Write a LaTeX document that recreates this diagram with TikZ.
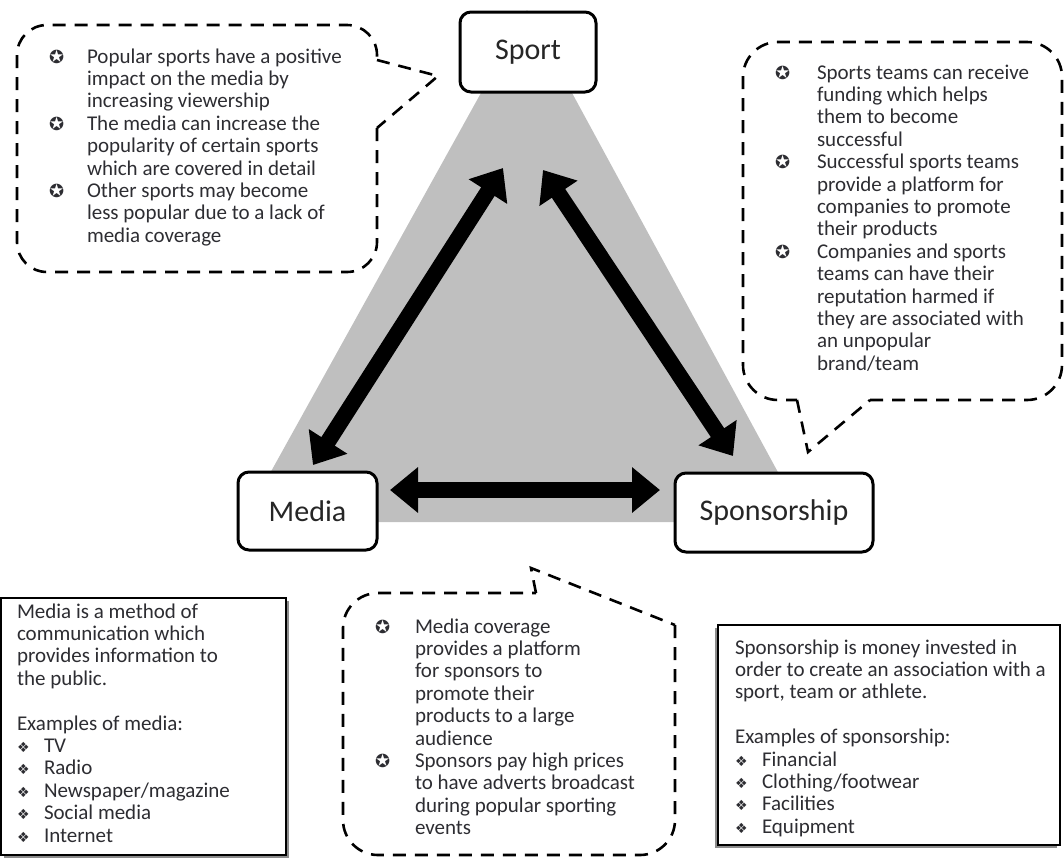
\documentclass[tikz,border=0pt]{standalone}
\usepackage{fontspec}
\setmainfont{Carlito}
\newfontfamily\symfont{DejaVu Sans}
\usetikzlibrary{arrows.meta}
\definecolor{tri}{RGB}{191,191,191}
\definecolor{txt}{RGB}{45,45,50}
\newcommand\cbul[1]{\par\hangindent=#1\hangafter=1\noindent\makebox[#1][l]{\hspace*{-1pt}\symfont\fontsize{18}{18}\selectfont\raisebox{0pt}{✪}}}
\newcommand\dbul{\makebox[27pt][l]{\symfont\fontsize{14}{14}\selectfont ❖}}
\begin{document}
\begin{tikzpicture}[x=1pt,y=-1pt,
  every node/.style={inner sep=0pt, outer sep=0pt},
  keybox/.style={draw=black, line width=3pt, rounded corners=11pt, fill=white, font=\fontsize{30}{34}\selectfont, text=black!85},
  callout/.style={draw=black, line width=2.6pt, dash pattern=on 13pt off 9pt},
  bigarrow/.style={line width=16pt, {Triangle[length=28pt,width=44pt]}-{Triangle[length=28pt,width=44pt]}},
  bodytext/.style={anchor=base west, text=txt, font=\fontsize{21}{22.4}\selectfont},
  infobox/.style={draw=black, line width=2pt, fill=white},
  shadowbox/.style={fill=black!45}
]
\useasboundingbox (0,0) rectangle (1064,857);

% grey triangle
\fill[tri] (527,10) -- (243,522) -- (805,522) -- cycle;

% key nodes
\node[keybox, minimum width=136pt, minimum height=80pt] (sport) at (528,52) {Sport};
\node[keybox, minimum width=139pt, minimum height=78pt] (media) at (307.5,511) {Media};
\node[keybox, minimum width=198pt, minimum height=79pt] (spons) at (774,512.5) {Sponsorship};

% arrow ends
\coordinate (msT) at (503,168);
\coordinate (msB) at (313,465);
\coordinate (ssT) at (543,170);
\coordinate (ssB) at (733,456);
\coordinate (hmL) at (390,490);
\coordinate (hmR) at (660,490);
\draw[bigarrow] (msB) -- (msT);
\draw[bigarrow] (ssB) -- (ssT);
\draw[bigarrow] (hmL) -- (hmR);

% top-left callout
\draw[callout, rounded corners=30pt] (377,128) -- (377,272) -- (17,272) -- (17,25) -- (377,25) -- (377,60);
\draw[callout] (377,60) -- (438,76) -- (377,128);
\node[bodytext] (tltext) at (50,63) {\parbox[t]{320pt}{%
\cbul{37pt}Popular sports have a positive\\ impact on the media by\\ increasing viewership
\cbul{37pt}The media can increase the\\ popularity of certain sports\\ which are covered in detail
\cbul{37pt}Other sports may become\\ less popular due to a lack of\\ media coverage}};

% top-right callout
\draw[callout, rounded corners=35pt] (870,400) -- (1062,400) -- (1062,42) -- (743,42) -- (743,400) -- (797,400);
\draw[callout] (797,400) -- (808,452) -- (870,400);
\node[bodytext] (trtext) at (776,79) {\parbox[t]{280pt}{%
\cbul{41pt}Sports teams can receive\\ funding which helps\\ them to become\\ successful
\cbul{41pt}Successful sports teams\\ provide a platform for\\ companies to promote\\ their products
\cbul{41pt}Companies and sports\\ teams can have their\\ reputation harmed if\\ they are associated with\\ an unpopular\\ brand/team}};

% bottom-middle callout
\draw[callout, rounded corners=35pt] (675,625) -- (675,855) -- (343,855) -- (343,593) -- (536,593);
\draw[callout] (536,593) -- (531,568) -- (675,625);
\node[bodytext] (bmtext) at (376,633) {\parbox[t]{290pt}{%
\cbul{39pt}Media coverage\\ provides a platform\\ for sponsors to\\ promote their\\ products to a large\\ audience
\cbul{39pt}Sponsors pay high prices\\ to have adverts broadcast\\ during popular sporting\\ events}};

% bottom-left info box
\fill[shadowbox] (4,601) rectangle (289,858);
\draw[infobox] (1,598) rectangle (286,855);
\node[bodytext] (bltext) at (17,618) {\parbox[t]{265pt}{%
Media is a method of\\ communication which\\ provides information to\\ the public.\\[22.4pt]
Examples of media:\\
\dbul TV\\ \dbul Radio\\ \dbul Newspaper/magazine\\ \dbul Social media\\ \dbul Internet}};

% bottom-right info box
\fill[shadowbox] (715,628) rectangle (1057,848);
\draw[infobox] (718,625) rectangle (1060,845);
\node[bodytext] (brtext) at (735,654) {\parbox[t]{320pt}{%
Sponsorship is money invested in\\ order to create an association with a\\ sport, team or athlete.\\[22.4pt]
Examples of sponsorship:\\
\dbul Financial\\ \dbul Clothing/footwear\\ \dbul Facilities\\ \dbul Equipment}};
\end{tikzpicture}
\end{document}
